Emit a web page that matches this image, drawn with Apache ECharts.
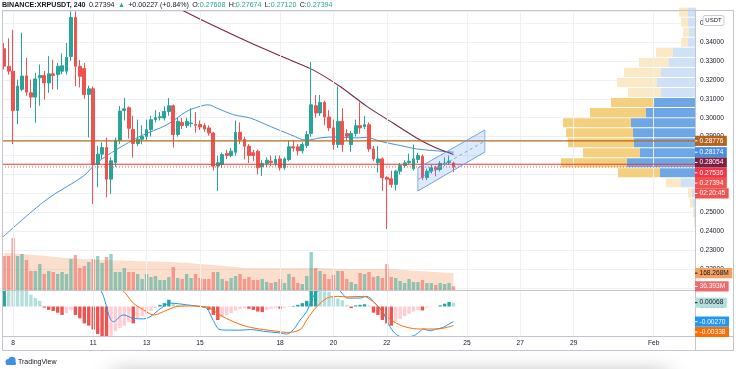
<!DOCTYPE html>
<html>
<head>
<meta charset="utf-8">
<script src="https://cdn.jsdelivr.net/npm/echarts/dist/echarts.min.js"></script>
<style>
html,body{margin:0;padding:0;background:#ffffff;}
#chart{width:736px;height:369px;}
</style>
</head>
<body>
<div id="chart"></div>
<script>
// ---------------- DATA ----------------
const SLOTS = 156; // 4h slots shown on the time axis (incl. empty future space)
const dayTickIndex = [2, 20, 32, 44, 62, 74, 86, 104, 116, 128, 146];
const dayTickLabel = ['8', '11', '13', '15', '18', '20', '22', '25', '27', '29', 'Feb'];

// [open, close, low, high]
const candles = [
[0.3365,0.3273,0.3255,0.3395],[0.3272,0.3246,0.3228,0.3420],[0.3246,0.3038,0.2860,0.3465],[0.3038,0.3167,0.2965,0.3202],
[0.3150,0.3220,0.3140,0.3450],[0.3221,0.3135,0.3116,0.3316],[0.3132,0.3109,0.3053,0.3202],[0.3109,0.3205,0.2974,0.3237],
[0.3211,0.3223,0.3063,0.3281],[0.3223,0.3184,0.3096,0.3247],[0.3184,0.3232,0.3132,0.3326],[0.3232,0.3223,0.3149,0.3307],
[0.3228,0.3272,0.3149,0.3289],[0.3246,0.3275,0.3230,0.3340],[0.3246,0.3319,0.3228,0.3395],[0.3324,0.3530,0.3300,0.3562],
[0.3530,0.3272,0.3167,0.3562],[0.3272,0.3219,0.3160,0.3305],[0.3260,0.3123,0.3100,0.3290],[0.3123,0.3153,0.2895,0.3170],
[0.3153,0.2754,0.2544,0.3165],[0.2754,0.2807,0.2632,0.2851],[0.2807,0.2842,0.2780,0.2870],[0.2842,0.2675,0.2579,0.2895],
[0.2675,0.2772,0.2596,0.2790],[0.2763,0.2881,0.2740,0.2895],[0.2881,0.3035,0.2860,0.3062],[0.3038,0.3047,0.2985,0.3105],
[0.3053,0.2944,0.2890,0.3060],[0.2938,0.2863,0.2789,0.3010],[0.2863,0.2886,0.2850,0.2990],[0.2886,0.2900,0.2860,0.2960],
[0.2900,0.2937,0.2880,0.2990],[0.2937,0.2989,0.2900,0.3010],[0.2990,0.3000,0.2975,0.3040],[0.3000,0.3005,0.2985,0.3030],
[0.2998,0.3033,0.2985,0.3060],[0.3033,0.3063,0.3010,0.3104],[0.3063,0.2911,0.2842,0.3070],[0.2911,0.2981,0.2900,0.3000],
[0.2975,0.2958,0.2940,0.3000],[0.2958,0.2981,0.2945,0.3000],[0.2968,0.2972,0.2950,0.3050],[0.2965,0.2960,0.2920,0.3030],
[0.2965,0.2951,0.2935,0.2985],[0.2958,0.2940,0.2925,0.2970],[0.2946,0.2919,0.2905,0.2960],[0.2919,0.2744,0.2720,0.2925],
[0.2744,0.2762,0.2612,0.2800],[0.2753,0.2805,0.2735,0.2815],[0.2811,0.2800,0.2780,0.2830],[0.2800,0.2823,0.2790,0.2840],
[0.2817,0.2923,0.2800,0.2985],[0.2923,0.2884,0.2860,0.2975],[0.2884,0.2849,0.2780,0.2900],[0.2849,0.2800,0.2760,0.2860],
[0.2815,0.2800,0.2770,0.2830],[0.2823,0.2735,0.2700,0.2830],[0.2741,0.2758,0.2691,0.2775],[0.2758,0.2775,0.2740,0.2790],
[0.2770,0.2763,0.2745,0.2800],[0.2758,0.2779,0.2745,0.2800],[0.2782,0.2735,0.2720,0.2800],[0.2735,0.2782,0.2725,0.2790],
[0.2779,0.2846,0.2770,0.2880],[0.2846,0.2840,0.2820,0.2880],[0.2846,0.2825,0.2800,0.2860],[0.2825,0.2858,0.2810,0.2870],
[0.2853,0.2911,0.2840,0.2930],[0.2916,0.3068,0.2900,0.3295],[0.3063,0.3025,0.3000,0.3120],[0.3025,0.3081,0.3010,0.3120],
[0.3081,0.3004,0.2960,0.3090],[0.3004,0.2946,0.2930,0.3040],[0.2946,0.2858,0.2830,0.2990],[0.2858,0.2981,0.2840,0.3165],
[0.2981,0.2858,0.2820,0.3050],[0.2916,0.2902,0.2880,0.2940],[0.2858,0.2916,0.2820,0.2930],[0.2916,0.2958,0.2900,0.2990],
[0.2958,0.2946,0.2915,0.3081],[0.2953,0.2963,0.2940,0.3010],[0.2963,0.2835,0.2820,0.2975],[0.2835,0.2782,0.2770,0.2850],
[0.2761,0.2782,0.2710,0.2850],[0.2782,0.2683,0.2612,0.2790],[0.2683,0.2674,0.2411,0.2690],[0.2677,0.2647,0.2630,0.2720],
[0.2647,0.2717,0.2615,0.2725],[0.2717,0.2747,0.2700,0.2760],[0.2747,0.2761,0.2735,0.2775],[0.2763,0.2770,0.2750,0.2810],
[0.2730,0.2782,0.2720,0.2858],[0.2779,0.2800,0.2760,0.2815],[0.2796,0.2683,0.2670,0.2805],[0.2683,0.2717,0.2670,0.2730],
[0.2717,0.2735,0.2705,0.2750],[0.2735,0.2725,0.2690,0.2745],[0.2726,0.2758,0.2715,0.2770],[0.2758,0.2760,0.2745,0.2790],
[0.2763,0.2770,0.2750,0.2800],[0.27608,0.27394,0.27120,0.27674]
];

// volume in millions
const volumes = [
340,340,520,340,360,300,190,190,260,160,190,180,160,180,160,310,350,220,240,280,
310,340,270,330,360,180,180,220,180,180,160,110,160,130,140,100,100,130,230,120,
110,160,120,160,120,110,110,180,180,110,90,120,140,160,110,130,
100,100,110,80,70,80,110,70,160,130,70,60,140,380,220,190,160,110,150,190,
190,110,80,60,170,160,180,130,140,120,260,130,120,90,70,110,80,80,100,70,
70,50,70,60,70,36.393
];
// volume moving average, [slot, millions]
const volumeMA = [[0,370],[7,350],[14,320],[22,300],[29,290],[37,280],[44,260],[52,230],[55,220],[70,220],[78,210],[85,210],[93,190],[101,168.268]];

const macdHist = [
0.0036,0.0035,0.0034,0.0032,0.0030,0.0029,0.0021,0.0015,0.0010,-0.0002,
-0.0006,-0.0008,-0.0011,-0.0015,-0.0012,-0.0006,-0.0015,-0.0021,-0.0030,-0.0034,
-0.0041,-0.0049,-0.0053,-0.0056,-0.0052,-0.0044,-0.0038,-0.0034,-0.0028,-0.0030,
-0.0021,-0.0017,-0.0013,-0.0008,-0.0003,0.0003,0.0006,0.0012,0.0006,0.0003,
0.0002,0.0001,0.00005,0.00003,-0.0001,-0.0002,-0.0006,-0.0015,-0.0024,-0.0019,
-0.0015,-0.0012,-0.0007,-0.0005,-0.0003,-0.0004,-0.0006,-0.0009,-0.0010,-0.0006,
-0.0004,-0.0003,-0.0004,-0.0002,-0.0001,0.0001,0.0003,0.0006,0.0010,0.0030,
0.0032,0.0029,0.0027,0.0026,0.0017,0.0014,0.0011,0.0003,-0.0003,0.0002,
0.0003,0.0004,0.0002,-0.0011,-0.0015,-0.0024,-0.0030,-0.0034,-0.0027,-0.0022,
-0.0017,-0.0013,-0.0009,-0.0006,-0.0007,-0.0002,-0.0001,0.0000,0.0002,0.0005,
0.0008,0.00068
];
const macdLine = [[0,0.0075],[8,0.0068],[14,0.0060],[18,0.0050],[21.6,0.0030],[24.6,-0.0027],[26.8,-0.0015],[29,-0.0021],[31.3,-0.0022],[35.8,0],[37.3,0.0006],[41,0.0003],[44,0],[45.5,-0.0003],[47,-0.0025],[48.5,-0.0041],[50.8,-0.0042],[53,-0.0042],[55.3,-0.0041],[58.3,-0.0044],[62,-0.0047],[63.5,-0.0049],[65,-0.0041],[66.5,-0.0024],[68,-0.0009],[69.1,0.0012],[70.3,0.0027],[72.5,0.0035],[75.1,0.0030],[76.2,0.0021],[77,0.0015],[80,0.0015],[81.5,0.0018],[83,0.0009],[85.2,-0.0012],[86.7,-0.0036],[88.2,-0.0050],[89.7,-0.0054],[92,-0.0052],[93.5,-0.0044],[94.2,-0.0040],[95.7,-0.0043],[97.2,-0.0040],[98.7,-0.0037],[100.2,-0.0030],[101,-0.0027]];
const signalLine = [[0,0.0120],[15,0.0075],[22,0.0045],[26.4,0.0030],[29,0.0006],[31.3,-0.0006],[33.6,-0.0015],[35.8,-0.0009],[38.8,0],[41,0.0001],[45.5,-0.0001],[48.5,-0.0015],[51.5,-0.0027],[55.3,-0.0037],[61.3,-0.0044],[63.5,-0.0046],[66.5,-0.0041],[68,-0.0024],[70.3,0],[73.3,0.0017],[75.1,0.0018],[77,0.0017],[80.7,0.0018],[81.8,0.0015],[83.7,0.0003],[86,-0.0018],[88.2,-0.0030],[90.5,-0.0037],[93.5,-0.0040],[97.2,-0.0040],[101,-0.00338]];

// moving averages on price, [slot, price]
const maBlue = [[-0.3,0.2369],[9.6,0.2568],[17.8,0.2691],[20.8,0.2761],[25.3,0.2832],[30.6,0.2902],[36.6,0.2963],[41,0.3033],[44,0.3060],[45.8,0.3068],[47.8,0.3051],[51.5,0.3016],[55.3,0.2998],[59.8,0.2954],[64.3,0.2911],[68,0.2881],[71,0.2893],[74,0.2898],[79.3,0.2893],[81.5,0.2896],[84.5,0.2875],[89,0.2853],[92.7,0.2835],[96.5,0.2826],[101,0.28174]];
const maMaroon = [[35,0.3640],[40.7,0.3560],[55.3,0.3396],[64.3,0.3305],[69.4,0.3253],[75.5,0.3165],[81.5,0.3060],[87.4,0.2972],[92.7,0.2893],[96.5,0.2846],[101,0.28054]];

const levelLines = [0.28776, 0.27536];
const currentPrice = 0.27394;
const channelTop = [[92.98,0.27339],[108.04,0.29349]];
const channelMid = [[92.98,0.26730],[108.04,0.28767]];
const channelBottom = [[92.98,0.26122],[108.04,0.28185]];

// volume profile rows: lower price bound, upper bound, up volume, down volume, in value area
const profileLow = [0.2416,0.2469,0.2522,0.2575,0.2629,0.2682,0.2735,0.2788,0.2841,0.2894,0.2947,0.3000,0.3054,0.3107,0.3160,0.3213,0.3266,0.3319,0.3373,0.3426,0.3479,0.3532];
const profileHigh = [0.2469,0.2522,0.2575,0.2629,0.2682,0.2735,0.2788,0.2841,0.2894,0.2947,0.3000,0.3054,0.3107,0.3160,0.3213,0.3266,0.3319,0.3373,0.3426,0.3479,0.3532,0.3585];
const profileUp = [1,2,3,4,15,36,69,56,62,63,65,50,42,35,39,35,27,23,8,7,8,8];
const profileDown = [1,1,3,4,15,42,66,57,66,67,68,56,43,33,40,37,30,17,7,6,7,9];
const profileValueArea = [0,0,0,0,0,1,1,1,1,1,1,1,1,0,0,0,0,0,0,0,0,0];

const priceTagValues = [0.28776, 0.28174, 0.28054, 0.27536, 0.27394];
const priceTagTexts = ['0.28776', '0.28174', '0.28054', '0.27536', '0.27394'];
const countdownText = '02:20:45';
const volumeTagValues = [168.268, 36.393];
const volumeTagTexts = ['168.268M', '36.393M'];
const macdTagValues = [0.00068, -0.00270, -0.00338];
const macdTagTexts = ['0.00068', '-0.00270', '-0.00338'];
const headerOHLC = ['0.27608', '0.27674', '0.27120', '0.27394'];
const headerChange = ['0.27394', '+0.00227 (+0.84%)'];

// ---------------- CHART ----------------
const FONT = '"Liberation Sans", Arial, sans-serif';
const UP = '#26a69a', DOWN = '#ef5350';
const chart = echarts.init(document.getElementById('chart'), null, {renderer: 'canvas'});

const cats = [];
for (let i = 0; i < SLOTS; i++) {
  const j = dayTickIndex.indexOf(i);
  cats.push(j >= 0 ? dayTickLabel[j] : '');
}

const G = {left: 2, right: 40};
const priceMin = 0.208836, priceMax = 0.356455;
const macdMin = -0.00524, macdMax = 0.002753;
const gridLineColor = '#eef0f4';

const histColors = macdHist.map((v, i) => {
  const prev = i > 0 ? macdHist[i - 1] : v;
  if (v >= 0) return v >= prev ? '#26a69a' : '#b2dfdb';
  return v <= prev ? '#ef5350' : '#ffcdd2';
});

const vLineMarks = dayTickIndex.map(k => ({xAxis: k}));

const option = {
  animation: false,
  backgroundColor: '#ffffff',
  grid: [
    {left: G.left, right: G.right, top: 11, bottom: 79},
    {left: G.left, right: G.right, top: 230, bottom: 79},
    {left: G.left, right: G.right, top: 291, bottom: 33}
  ],
  xAxis: [
    {type: 'category', gridIndex: 0, data: cats, boundaryGap: true, axisLine: {show: false}, axisTick: {show: false}, axisLabel: {show: false}, splitLine: {show: false}},
    {type: 'value', gridIndex: 0, min: -0.5, max: SLOTS - 0.5, show: false},
    {type: 'value', gridIndex: 0, min: 0, max: 694.2, inverse: true, show: false},
    {type: 'category', gridIndex: 1, data: cats, boundaryGap: true, show: false},
    {type: 'value', gridIndex: 1, min: -0.5, max: SLOTS - 0.5, show: false},
    {type: 'category', gridIndex: 2, data: cats, boundaryGap: true, axisLine: {show: false}, axisTick: {show: false},
      axisLabel: {interval: 0, margin: 4, fontSize: 6.6, color: '#131722', fontFamily: FONT}, splitLine: {show: false}},
    {type: 'value', gridIndex: 2, min: -0.5, max: SLOTS - 0.5, show: false}
  ],
  yAxis: [
    {type: 'value', gridIndex: 0, position: 'right', min: priceMin, max: priceMax, splitNumber: 15, scale: true,
      axisLine: {show: false}, axisTick: {show: false},
      axisLabel: {margin: 4, fontSize: 6.6, color: '#131722', fontFamily: FONT,
        formatter: v => { const r = Math.round(v * 100); return (Math.abs(v * 100 - r) < 1e-6 && v > 0.215 && v < 0.355) ? v.toFixed(5) : ''; }},
      splitLine: {show: true, lineStyle: {color: gridLineColor, width: 1}}},
    {type: 'value', gridIndex: 1, min: 0, max: 600, show: false},
    {type: 'value', gridIndex: 2, position: 'right', min: macdMin, max: macdMax, splitNumber: 2,
      axisLine: {show: false}, axisTick: {show: false},
      axisLabel: {margin: 4, fontSize: 6.6, color: '#131722', fontFamily: FONT,
        formatter: v => Math.abs(v) < 1e-9 ? '0.00000' : ''},
      splitLine: {show: false}}
  ],
  series: [
    {type: 'line', xAxisIndex: 1, yAxisIndex: 0, data: [], silent: true,
      markLine: {silent: true, symbol: 'none', label: {show: false}, lineStyle: {color: gridLineColor, type: 'solid', width: 1}, data: vLineMarks}},
    {type: 'line', xAxisIndex: 6, yAxisIndex: 2, data: [], silent: true,
      markLine: {silent: true, symbol: 'none', label: {show: false}, lineStyle: {color: gridLineColor, type: 'solid', width: 1}, data: vLineMarks}},
    // volume profile
    {type: 'custom', xAxisIndex: 2, yAxisIndex: 0, silent: true, z: 1,
      encode: {x: [2, 3], y: [0, 1]},
      data: profileLow.map((lo, i) => [lo, profileHigh[i], profileUp[i], profileDown[i], profileValueArea[i]]),
      renderItem: (params, api) => {
        const lo = api.value(0), hi = api.value(1), up = api.value(2), dn = api.value(3), va = api.value(4);
        const pR = api.coord([0, hi]);
        const pU = api.coord([up, lo]);
        const pD = api.coord([up + dn, lo]);
        const y0 = pR[1] + 0.5, h = pU[1] - pR[1] - 1;
        return {type: 'group', children: [
          {type: 'rect', shape: {x: pU[0], y: y0, width: pR[0] - pU[0], height: h}, style: {fill: va ? '#6ea7e6' : '#cfe1f6'}},
          {type: 'rect', shape: {x: pD[0], y: y0, width: pU[0] - pD[0], height: h}, style: {fill: va ? '#f3cf7e' : '#fbe9c5'}}
        ]};
      }},
    // volume MA area
    {type: 'line', xAxisIndex: 4, yAxisIndex: 1, data: volumeMA, smooth: 0.4, showSymbol: false, silent: true, z: 2,
      lineStyle: {width: 0}, areaStyle: {color: 'rgba(243,150,90,0.45)', origin: 'start'}},
    // volume bars
    {type: 'bar', xAxisIndex: 3, yAxisIndex: 1, barWidth: 3.4, silent: true, z: 3,
      data: volumes.map((v, i) => ({value: v, itemStyle: {color: candles[i][1] >= candles[i][0] ? 'rgba(38,166,154,0.5)' : 'rgba(239,83,80,0.5)'}}))},
    {type: 'line', xAxisIndex: 1, yAxisIndex: 0, data: maBlue, smooth: 0.35, showSymbol: false, silent: true, z: 4,
      lineStyle: {color: '#4b92dc', width: 1}},
    {type: 'line', xAxisIndex: 1, yAxisIndex: 0, data: maMaroon, smooth: 0.3, showSymbol: false, silent: true, z: 4,
      lineStyle: {color: '#7e2447', width: 1.1}},
    {type: 'candlestick', xAxisIndex: 0, yAxisIndex: 0, data: candles, barWidth: 3.3, z: 5, silent: true,
      itemStyle: {color: UP, color0: DOWN, borderColor: UP, borderColor0: DOWN, borderWidth: 1}},
    {type: 'line', xAxisIndex: 1, yAxisIndex: 0, data: [[-0.5, levelLines[0]], [SLOTS - 0.5, levelLines[0]]], showSymbol: false, silent: true, z: 6,
      lineStyle: {color: '#b8691f', width: 1.2}},
    {type: 'line', xAxisIndex: 1, yAxisIndex: 0, data: [[-0.5, levelLines[1]], [SLOTS - 0.5, levelLines[1]]], showSymbol: false, silent: true, z: 6,
      lineStyle: {color: '#e53935', width: 1.2}},
    {type: 'line', xAxisIndex: 1, yAxisIndex: 0, data: [[-0.5, currentPrice], [SLOTS - 0.5, currentPrice]], showSymbol: false, silent: true, z: 6,
      lineStyle: {color: '#ef5350', width: 1, type: [1, 2]}},
    // channel drawing
    {type: 'custom', xAxisIndex: 1, yAxisIndex: 0, silent: true, z: 7, data: [[100, 0.28]],
      renderItem: (params, api) => {
        const t0 = api.coord(channelTop[0]), t1 = api.coord(channelTop[1]);
        const b0 = api.coord(channelBottom[0]), b1 = api.coord(channelBottom[1]);
        const m0 = api.coord(channelMid[0]), m1 = api.coord(channelMid[1]);
        return {type: 'group', children: [
          {type: 'polygon', shape: {points: [t0, t1, b1, b0]}, style: {fill: 'rgba(66,133,244,0.18)'}},
          {type: 'line', shape: {x1: t0[0], y1: t0[1], x2: t1[0], y2: t1[1]}, style: {stroke: '#6fa2e6', lineWidth: 1}},
          {type: 'line', shape: {x1: b0[0], y1: b0[1], x2: b1[0], y2: b1[1]}, style: {stroke: '#6fa2e6', lineWidth: 1}},
          {type: 'line', shape: {x1: t0[0], y1: t0[1], x2: b0[0], y2: b0[1]}, style: {stroke: '#6fa2e6', lineWidth: 0.8}},
          {type: 'line', shape: {x1: t1[0], y1: t1[1], x2: b1[0], y2: b1[1]}, style: {stroke: '#6fa2e6', lineWidth: 0.8}},
          {type: 'line', shape: {x1: m0[0], y1: m0[1], x2: m1[0], y2: m1[1]}, style: {stroke: '#7fa9e0', lineWidth: 1, lineDash: [3, 3]}}
        ]};
      }},
    {type: 'bar', xAxisIndex: 5, yAxisIndex: 2, barWidth: 3.4, silent: true,
      data: macdHist.map((v, i) => ({value: v, itemStyle: {color: histColors[i]}}))},
    {type: 'line', xAxisIndex: 6, yAxisIndex: 2, data: macdLine, smooth: 0.35, showSymbol: false, silent: true,
      lineStyle: {color: '#2196f3', width: 1}},
    {type: 'line', xAxisIndex: 6, yAxisIndex: 2, data: signalLine, smooth: 0.35, showSymbol: false, silent: true,
      lineStyle: {color: '#ff6d00', width: 1}}
  ]
};
chart.setOption(option);

// --------------- overlays: axis tags, header, frame ---------------
const meas = document.createElement('canvas').getContext('2d');
function textW(t, size) { meas.font = size + 'px ' + FONT; return meas.measureText(t).width; }

const graphics = [];
const AX = 695;
function tag(text, yc, bg, fg) {
  const w = textW(text, 6.6) + 8;
  graphics.push({type: 'rect', z: 100, shape: {x: AX, y: yc - 5.1, width: w, height: 10.2}, style: {fill: bg}});
  graphics.push({type: 'line', z: 101, shape: {x1: AX, y1: yc, x2: AX + 2.5, y2: yc}, style: {stroke: fg, lineWidth: 1}});
  graphics.push({type: 'text', z: 101, x: AX + 4.5, y: yc, style: {text: text, fill: fg, fontSize: 6.6, fontFamily: FONT, verticalAlign: 'middle', align: 'left'}});
}
function stack(values, axisIdx, h) {
  const out = []; let prev = -1e9;
  values.forEach(v => { let y = chart.convertToPixel({yAxisIndex: axisIdx}, v); if (y < prev + h) y = prev + h; out.push(y); prev = y; });
  return out;
}
const priceTagBg = ['#b3651f', '#4a90e2', '#7b1f44', '#f23645', '#ef5350'];
const pY = stack(priceTagValues, 0, 10.3);
pY.forEach((y, i) => tag(priceTagTexts[i], y, priceTagBg[i], '#ffffff'));
tag(countdownText, pY[pY.length - 1] + 10.3, '#ef5350', '#ffffff');

const vY = stack(volumeTagValues, 1, 10.3);
tag(volumeTagTexts[0], vY[0], '#f4a261', '#131722');
tag(volumeTagTexts[1], vY[1], '#ef6b6b', '#ffffff');

const mY = stack(macdTagValues, 2, 10.3);
tag(macdTagTexts[0], mY[0], '#b2dfdb', '#131722');
tag(macdTagTexts[1], mY[1], '#2196f3', '#ffffff');
tag(macdTagTexts[2], mY[2], '#ff6d00', '#ffffff');

graphics.push({type: 'rect', z: 100, shape: {x: 703, y: 15.5, width: 21, height: 10, r: 2}, style: {fill: '#ffffff', stroke: '#c8cbd3', lineWidth: 1}});
graphics.push({type: 'text', z: 101, x: 713.5, y: 20.5, style: {text: 'USDT', fill: '#131722', fontSize: 6, fontFamily: FONT, align: 'center', verticalAlign: 'middle'}});

const frame = '#c3c6ce';
[[2.5, 10.5, 2.5, 350.5], [2, 350.5, 734, 350.5], [695.5, 10.5, 695.5, 350.5], [2, 10.5, 734, 10.5], [733.5, 10.5, 733.5, 350.5], [2, 290.5, 695, 290.5], [2, 336.5, 734, 336.5]].forEach(l => {
  graphics.push({type: 'line', z: 90, shape: {x1: l[0], y1: l[1], x2: l[2], y2: l[3]}, style: {stroke: frame, lineWidth: 1}});
});

graphics.push({type: 'text', z: 101, x: 2, y: 4.6, style: {
  text: '{s|BINANCE:XRPUSDT, 240} {d|' + headerChange[0] + '} {g|▲} {d|' + headerChange[1] + '} {d|O:}{g|' + headerOHLC[0] + '} {d|H:}{g|' + headerOHLC[1] + '} {d|L:}{g|' + headerOHLC[2] + '} {d|C:}{g|' + headerOHLC[3] + '}',
  verticalAlign: 'middle', fontFamily: FONT,
  rich: {s: {fontWeight: 'bold', fontSize: 7.1, fill: '#131722', fontFamily: FONT}, d: {fontSize: 7.1, fill: '#131722', fontFamily: FONT}, g: {fontSize: 7.1, fill: '#26a69a', fontFamily: FONT}}
}});

graphics.push({type: 'rect', z: 0, shape: {x: 110, y: 374, width: 560, height: 30, r: 10}, style: {fill: '#ffffff', shadowBlur: 22, shadowColor: 'rgba(0,0,0,0.35)'}});
graphics.push({type: 'circle', z: 101, shape: {cx: 8.5, cy: 362, r: 3}, style: {fill: '#3f8fe3'}});
graphics.push({type: 'circle', z: 101, shape: {cx: 12, cy: 360.3, r: 3.6}, style: {fill: '#3f8fe3'}});
graphics.push({type: 'rect', z: 101, shape: {x: 6, y: 361.5, width: 10, height: 3.5, r: 1.5}, style: {fill: '#3f8fe3'}});
graphics.push({type: 'text', z: 101, x: 18, y: 362, style: {text: 'TradingView', fill: '#131722', fontSize: 7, fontFamily: FONT, verticalAlign: 'middle'}});

chart.setOption({graphic: graphics});
</script>
</body>
</html>
